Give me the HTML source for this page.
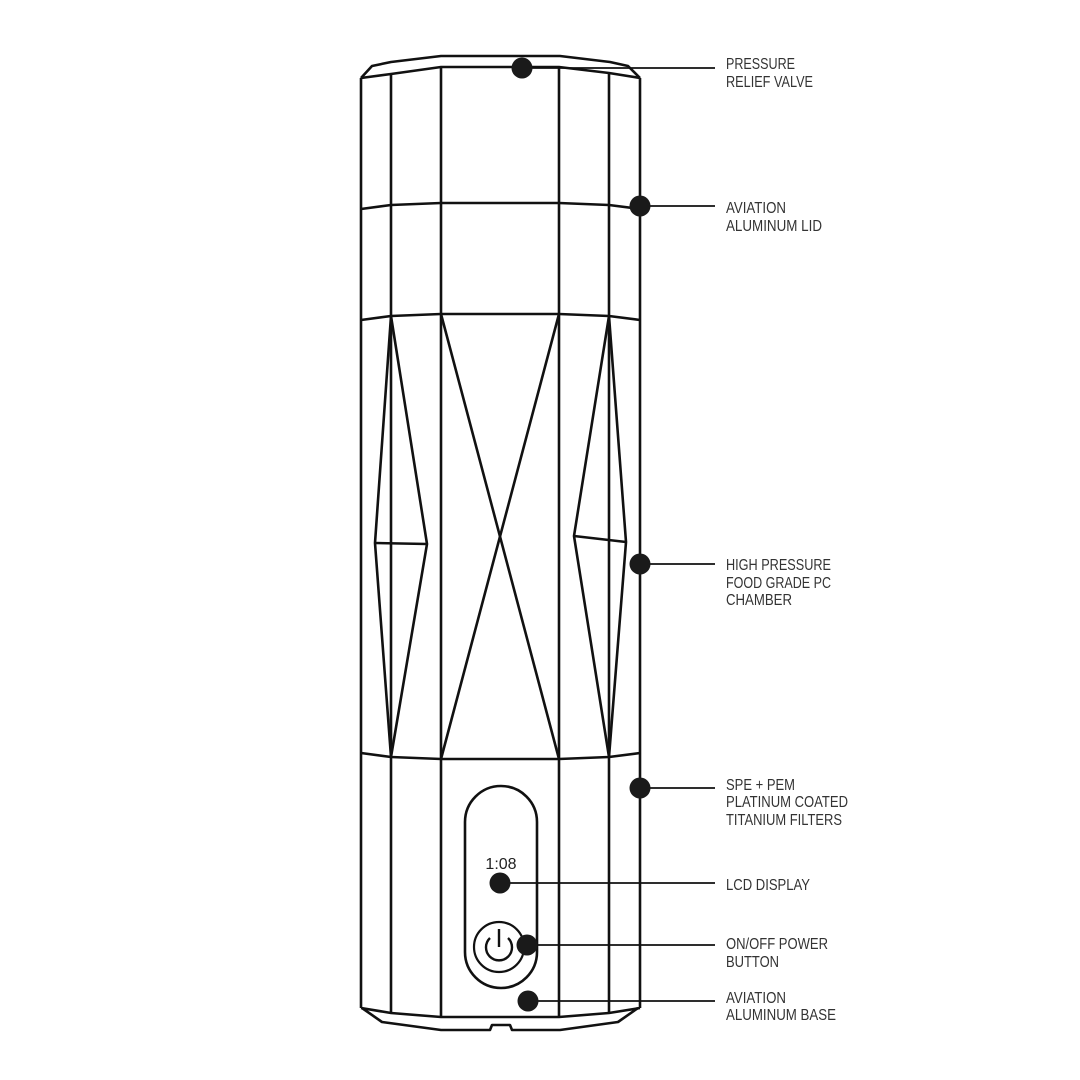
<!DOCTYPE html>
<html><head><meta charset="utf-8"><style>
html,body{margin:0;padding:0;background:#fff;}
svg{display:block;}
text.l{font-family:"Liberation Sans Narrow","Liberation Sans",sans-serif;font-size:15.5px;fill:#333;}
</style></head><body>
<svg width="1080" height="1080" viewBox="0 0 1080 1080" xmlns="http://www.w3.org/2000/svg">
<g fill="none" stroke="#111" stroke-width="2.6" stroke-linejoin="round">
<!-- top cap -->
<path d="M361,78 L372,66 L391,62 L441,56 L560,56 L610,62 L628,66 L640,78"/>
<path d="M361,78 L391,74 L441,67 L559,67 L609,73 L640,78"/>
<!-- verticals -->
<line x1="361" y1="78" x2="361" y2="1008"/>
<line x1="391" y1="74" x2="391" y2="1013"/>
<line x1="441" y1="67" x2="441" y2="1017"/>
<line x1="559" y1="67" x2="559" y2="1017"/>
<line x1="609" y1="73" x2="609" y2="1013"/>
<line x1="640" y1="78" x2="640" y2="1008"/>
<!-- bands -->
<path d="M361,209 L391,205 L441,203 L559,203 L609,205 L640,209"/>
<path d="M361,320 L391,316 L441,314 L559,314 L609,316 L640,320"/>
<path d="M361,753 L391,757 L441,759 L559,759 L609,757 L640,753"/>
<!-- diamonds -->
<path d="M391,316 L375,543 L391,757 L427,544 Z"/>
<line x1="375" y1="543" x2="427" y2="544"/>
<path d="M609,316 L574,536 L609,757 L626,542 Z"/>
<line x1="574" y1="536" x2="626" y2="542"/>
<!-- X -->
<line x1="441" y1="314" x2="559" y2="759"/>
<line x1="559" y1="314" x2="441" y2="759"/>
<!-- base -->
<path d="M361,1008 L391,1013 L441,1017 L559,1017 L609,1013 L640,1008"/>
<path d="M362,1008 L382,1022 L441,1030 L490,1030 L492,1025 L510,1025 L512,1030 L560,1030 L618,1022 L638,1008"/>
<!-- pill -->
<rect x="465" y="786" width="72" height="202" rx="36" ry="36"/>
<circle cx="499" cy="947" r="25" stroke-width="2.2"/>
<path d="M490,938 A13,13 0 1 0 508,938" stroke-width="2.4"/>
<line x1="499" y1="929" x2="499" y2="947" stroke-width="2.4"/>
<!-- leaders -->
<g stroke-width="1.8">
<line x1="522" y1="68" x2="715" y2="68"/>
<line x1="640" y1="206" x2="715" y2="206"/>
<line x1="640" y1="564" x2="715" y2="564"/>
<line x1="640" y1="788" x2="715" y2="788"/>
<line x1="500" y1="883" x2="715" y2="883"/>
<line x1="527" y1="945" x2="715" y2="945"/>
<line x1="528" y1="1001" x2="715" y2="1001"/>
</g>
</g>
<g fill="#1a1a1a">
<circle cx="522" cy="68" r="10.5"/>
<circle cx="640" cy="206" r="10.5"/>
<circle cx="640" cy="564" r="10.5"/>
<circle cx="640" cy="788" r="10.5"/>
<circle cx="500" cy="883" r="10.5"/>
<circle cx="527" cy="945" r="10.5"/>
<circle cx="528" cy="1001" r="10.5"/>
</g>
<text x="501" y="869" text-anchor="middle" style="font-family:'Liberation Sans',sans-serif;font-size:16px;fill:#222;">1:08</text>
<g>
<text class="l" x="726" y="69" textLength="69" lengthAdjust="spacingAndGlyphs">PRESSURE</text>
<text class="l" x="726" y="87" textLength="87" lengthAdjust="spacingAndGlyphs">RELIEF VALVE</text>
<text class="l" x="726" y="213" textLength="60" lengthAdjust="spacingAndGlyphs">AVIATION</text>
<text class="l" x="726" y="231" textLength="96" lengthAdjust="spacingAndGlyphs">ALUMINUM LID</text>
<text class="l" x="726" y="570" textLength="105" lengthAdjust="spacingAndGlyphs">HIGH PRESSURE</text>
<text class="l" x="726" y="588" textLength="105" lengthAdjust="spacingAndGlyphs">FOOD GRADE PC</text>
<text class="l" x="726" y="605" textLength="66" lengthAdjust="spacingAndGlyphs">CHAMBER</text>
<text class="l" x="726" y="790" textLength="69" lengthAdjust="spacingAndGlyphs">SPE + PEM</text>
<text class="l" x="726" y="807" textLength="122" lengthAdjust="spacingAndGlyphs">PLATINUM COATED</text>
<text class="l" x="726" y="825" textLength="116" lengthAdjust="spacingAndGlyphs">TITANIUM FILTERS</text>
<text class="l" x="726" y="890" textLength="84" lengthAdjust="spacingAndGlyphs">LCD DISPLAY</text>
<text class="l" x="726" y="949" textLength="102" lengthAdjust="spacingAndGlyphs">ON/OFF POWER</text>
<text class="l" x="726" y="967" textLength="53" lengthAdjust="spacingAndGlyphs">BUTTON</text>
<text class="l" x="726" y="1003" textLength="60" lengthAdjust="spacingAndGlyphs">AVIATION</text>
<text class="l" x="726" y="1020" textLength="110" lengthAdjust="spacingAndGlyphs">ALUMINUM BASE</text>
</g>
</svg>
</body></html>
